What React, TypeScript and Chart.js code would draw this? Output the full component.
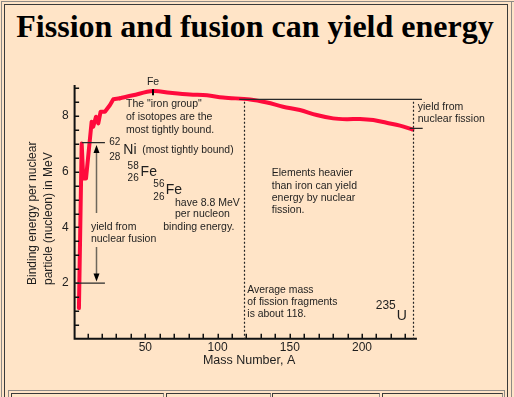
import React, { useEffect, useRef } from 'react';
import { Chart, registerables } from 'chart.js';

Chart.register(...registerables);

// ---- data (mass number A, binding energy per nucleon in MeV) ----
const lightMass = [4.0, 5.9, 7.0, 8.9, 12.8, 13.9, 15.8, 17.4, 19.0, 22.0, 25.5, 27.8, 32.4];
const lightEnergy = [1.1, 7.02, 5.76, 5.76, 7.8, 7.62, 7.98, 7.74, 8.16, 8.16, 8.4, 8.61, 8.64];
const heavyMass = [32.4, 41.4, 55.3, 67.0, 80.8, 92.7, 103.8, 122.5, 134.2, 145.3, 157.0, 168.6, 180.0, 189.4, 198.6, 207.8, 217.0, 226.3, 235.0];
const heavyEnergy = [8.64, 8.75, 8.9, 8.84, 8.78, 8.75, 8.67, 8.6, 8.49, 8.34, 8.22, 8.04, 7.92, 7.89, 7.9, 7.86, 7.76, 7.66, 7.52];

const xMin = 1;
const xMax = 238;
const yMin = 0;
const yMax = 9.12;

const yMinorTicks = [0.5, 1, 1.5, 2, 2.5, 3, 3.5, 4, 4.5, 5, 5.5, 6, 6.5, 7, 7.5, 8, 8.5, 9];
const yTickValues = [2, 4, 6, 8];
const yTickLabels = ['2', '4', '6', '8'];
const xMinorTicks = [10, 20, 30, 40, 50, 60, 70, 80, 90, 100, 110, 120, 130, 140, 150, 160, 170, 180, 190, 200, 210, 220, 230];
const xTickValues = [50, 100, 150, 200];
const xTickLabels = ['50', '100', '150', '200'];

const xTitle = 'Mass Number, A';
const yTitleLines = ['Binding energy per nuclear', 'particle (nucleon) in MeV'];
const title = 'Fission and fusion can yield energy';

const ironPeakA = 55.3;
const fissionFragmentA = 118;
const uraniumA = 235;
const fusionTopE = 7.05;
const fusionBottomE = 2.0;
const fissionTopE = 8.6;
const fissionBottomE = 7.56;

// annotation texts: [text, A, E, fontSize, align]
const notes: [string, number, number, number, CanvasTextAlign][] = [
  ['Fe', 55.3, 9.23, 10.5, 'center'],
  ['The "iron group"', 36.6, 8.42, 10.5, 'left'],
  ['of isotopes are the', 36.6, 7.96, 10.5, 'left'],
  ['most tightly bound.', 36.6, 7.5, 10.5, 'left'],
  ['62', 25.0, 7.06, 10, 'left'],
  ['28', 25.0, 6.52, 10, 'left'],
  ['Ni', 34.7, 6.78, 14, 'left'],
  ['(most tightly bound)', 47.9, 6.78, 10.4, 'left'],
  ['58', 37.7, 6.21, 10, 'left'],
  ['26', 37.7, 5.76, 10, 'left'],
  ['Fe', 46.7, 5.98, 14, 'left'],
  ['56', 55.5, 5.56, 10, 'left'],
  ['26', 55.5, 5.1, 10, 'left'],
  ['Fe', 64.1, 5.34, 14, 'left'],
  ['have 8.8 MeV', 70.5, 4.89, 10.5, 'left'],
  ['per nucleon', 70.5, 4.47, 10.5, 'left'],
  ['binding energy.', 62.4, 4.02, 10.5, 'left'],
  ['yield from', 12.3, 4.02, 10.5, 'left'],
  ['nuclear fusion', 12.3, 3.58, 10.5, 'left'],
  ['Elements heavier', 137.5, 5.96, 10.5, 'left'],
  ['than iron can yield', 137.5, 5.5, 10.5, 'left'],
  ['energy by nuclear', 137.5, 5.07, 10.5, 'left'],
  ['fission.', 137.5, 4.62, 10.5, 'left'],
  ['Average mass', 120.6, 1.75, 10.4, 'left'],
  ['of fission fragments', 120.6, 1.31, 10.4, 'left'],
  ['is about 118.', 120.6, 0.89, 10.4, 'left'],
  ['235', 209.5, 1.17, 12, 'left'],
  ['U', 224.0, 0.82, 14, 'left'],
  ['yield from', 238.6, 8.31, 10.5, 'left'],
  ['nuclear fission', 238.6, 7.88, 10.5, 'left'],
];

const SANS = '"Liberation Sans", Arial, Helvetica, sans-serif';
const TEXT = '#1e1e1e';
const RED = '#FF0A3C';

const decorPlugin = {
  id: 'decor',
  afterDatasetsDraw(chart: any) {
    const ctx: CanvasRenderingContext2D = chart.ctx;
    const xs = chart.scales.x;
    const ys = chart.scales.y;
    const px = (v: number) => xs.getPixelForValue(v);
    const py = (v: number) => ys.getPixelForValue(v);
    const area = chart.chartArea;
    const left = px(xMin);
    const bottom = py(yMin);
    ctx.save();

    // axes
    ctx.strokeStyle = '#111';
    ctx.lineWidth = 2;
    ctx.beginPath();
    ctx.moveTo(left, py(yMax));
    ctx.lineTo(left, bottom);
    ctx.lineTo(px(xMax), bottom);
    ctx.stroke();

    // ticks
    ctx.lineWidth = 1.5;
    ctx.beginPath();
    yMinorTicks.forEach((v) => {
      const y = Math.round(py(v)) + 0.25;
      ctx.moveTo(left, y);
      ctx.lineTo(left + 4.5, y);
    });
    xMinorTicks.forEach((v) => {
      const x = Math.round(px(v)) + 0.25;
      ctx.moveTo(x, bottom);
      ctx.lineTo(x, bottom - 5);
    });
    ctx.stroke();

    // tick labels
    ctx.fillStyle = TEXT;
    ctx.font = `12px ${SANS}`;
    ctx.textBaseline = 'middle';
    ctx.textAlign = 'right';
    yTickValues.forEach((v, i) => ctx.fillText(yTickLabels[i], left - 6, py(v)));
    ctx.textAlign = 'center';
    xTickValues.forEach((v, i) => ctx.fillText(xTickLabels[i], px(v), bottom + 8.5));

    // axis titles
    ctx.font = `12.5px ${SANS}`;
    ctx.textAlign = 'center';
    ctx.fillText(xTitle, px(121.8), bottom + 21.5);
    ctx.font = `12px ${SANS}`;
    ctx.textAlign = 'left';
    yTitleLines.forEach((line, i) => {
      ctx.save();
      ctx.translate(left - 41.8 + i * 15.6, py(1.93));
      ctx.rotate(-Math.PI / 2);
      ctx.fillText(line, 0, 0);
      ctx.restore();
    });

    // iron peak marker
    ctx.strokeStyle = '#000';
    ctx.lineWidth = 2;
    ctx.beginPath();
    ctx.moveTo(px(ironPeakA), py(8.75));
    ctx.lineTo(px(ironPeakA), py(8.97));
    ctx.stroke();

    // fusion lines
    ctx.strokeStyle = '#2a2a2a';
    ctx.lineWidth = 1.3;
    ctx.beginPath();
    ctx.moveTo(px(5.9), py(fusionTopE));
    ctx.lineTo(px(22), py(fusionTopE));
    ctx.moveTo(px(xMin), py(fusionBottomE));
    ctx.lineTo(px(22), py(fusionBottomE));
    // fission lines
    ctx.moveTo(px(115), py(fissionTopE));
    ctx.lineTo(px(241.5), py(fissionTopE));
    ctx.moveTo(px(233), py(fissionBottomE));
    ctx.lineTo(px(242), py(fissionBottomE));
    ctx.stroke();

    // arrows
    const arrowA = 15.8;
    const ax = Math.round(px(arrowA)) + 0.5;
    ctx.strokeStyle = '#6e675c';
    ctx.lineWidth = 1.5;
    ctx.beginPath();
    ctx.moveTo(ax, py(4.52));
    ctx.lineTo(ax, py(6.8));
    ctx.moveTo(ax, py(3.3));
    ctx.lineTo(ax, py(2.25));
    ctx.stroke();
    ctx.fillStyle = '#000';
    const head = (tipY: number, dir: number) => {
      ctx.beginPath();
      ctx.moveTo(ax, tipY);
      ctx.lineTo(ax - 3, tipY + dir * 8);
      ctx.lineTo(ax + 3, tipY + dir * 8);
      ctx.closePath();
      ctx.fill();
    };
    head(py(6.96), 1);
    head(py(2.06), -1);

    // dotted verticals
    ctx.strokeStyle = '#222';
    ctx.lineWidth = 1.2;
    ctx.setLineDash([2, 2]);
    ctx.beginPath();
    [fissionFragmentA, uraniumA].forEach((a) => {
      const x = Math.round(px(a)) + 0.5;
      ctx.moveTo(x, py(8.52));
      ctx.lineTo(x, bottom);
    });
    ctx.stroke();
    ctx.setLineDash([]);

    // notes
    ctx.fillStyle = TEXT;
    ctx.textBaseline = 'middle';
    notes.forEach(([t, a, e, size, align]) => {
      ctx.font = `${size}px ${SANS}`;
      ctx.textAlign = align;
      ctx.fillText(t, px(a), py(e));
    });

    ctx.restore();
  },
};

function ChartCanvas() {
  const ref = useRef<HTMLCanvasElement | null>(null);
  useEffect(() => {
    if (!ref.current) return;
    const chart = new Chart(ref.current, {
      type: 'line',
      data: {
        datasets: [
          {
            data: lightMass.map((a, i) => ({ x: a, y: lightEnergy[i] })),
            borderColor: RED,
            borderWidth: 4,
            tension: 0,
            pointRadius: 0,
            borderJoinStyle: 'round',
            borderCapStyle: 'round',
          },
          {
            data: heavyMass.map((a, i) => ({ x: a, y: heavyEnergy[i] })),
            borderColor: RED,
            borderWidth: 4,
            tension: 0.35,
            pointRadius: 0,
            borderJoinStyle: 'round',
            borderCapStyle: 'round',
          },
        ],
      },
      options: {
        animation: false,
        responsive: false,
        maintainAspectRatio: false,
        devicePixelRatio: 1,
        layout: { padding: { left: 74.6, right: 97.1, top: 85, bottom: 58.3 } },
        plugins: { legend: { display: false }, tooltip: { enabled: false } },
        scales: {
          x: { type: 'linear', min: xMin, max: xMax, display: false },
          y: { type: 'linear', min: yMin, max: yMax, display: false },
        },
      } as any,
      plugins: [decorPlugin],
    });
    return () => chart.destroy();
  }, []);
  return (
    <canvas
      ref={ref}
      width={514}
      height={397}
      style={{ position: 'absolute', left: 0, top: 0, width: 514, height: 397 }}
    />
  );
}

const line = (s: React.CSSProperties): React.CSSProperties => ({ position: 'absolute', ...s });

export default function App() {
  const gray = '#8e8a86';
  const dark = '#3a3a3a';
  return (
    <div
      style={{
        position: 'absolute',
        left: 0,
        top: 0,
        width: 514,
        height: 397,
        background: '#FFE4C7',
        overflow: 'hidden',
      }}
    >
      {/* outer table frame */}
      <div style={line({ left: 1, top: 1, width: 1, height: 396, background: gray })} />
      <div style={line({ left: 1, top: 1, width: 513, height: 1, background: gray })} />
      <div style={line({ left: 511, top: 1, width: 1, height: 396, background: gray })} />
      {/* main cell frame */}
      <div style={line({ left: 4, top: 4, width: 1, height: 393, background: dark })} />
      <div style={line({ left: 4, top: 4, width: 504, height: 1, background: dark })} />
      <div style={line({ left: 507, top: 4, width: 1, height: 393, background: dark })} />
      {/* lower row table */}
      <div style={line({ left: 8, top: 390, width: 497, height: 1, background: gray })} />
      <div style={line({ left: 8, top: 390, width: 1, height: 7, background: gray })} />
      <div style={line({ left: 504, top: 390, width: 1, height: 7, background: gray })} />
      {[
        [11, 163],
        [166, 270],
        [272, 379],
        [382, 502],
      ].map(([a, b], i) => (
        <div
          key={i}
          style={line({
            left: a,
            top: 393,
            width: b - a - 1,
            height: 10,
            borderTop: `1px solid ${dark}`,
            borderLeft: `1px solid ${dark}`,
            borderRight: `1px solid ${gray}`,
          })}
        />
      ))}
      <div
        style={{
          position: 'absolute',
          left: 5,
          top: 10,
          width: 500,
          textAlign: 'center',
          fontFamily: '"Liberation Serif", "Times New Roman", serif',
          fontWeight: 'bold',
          fontSize: 32,
          lineHeight: '32px',
          color: '#000',
          whiteSpace: 'nowrap',
        }}
      >
        {title}
      </div>
      <ChartCanvas />
    </div>
  );
}
